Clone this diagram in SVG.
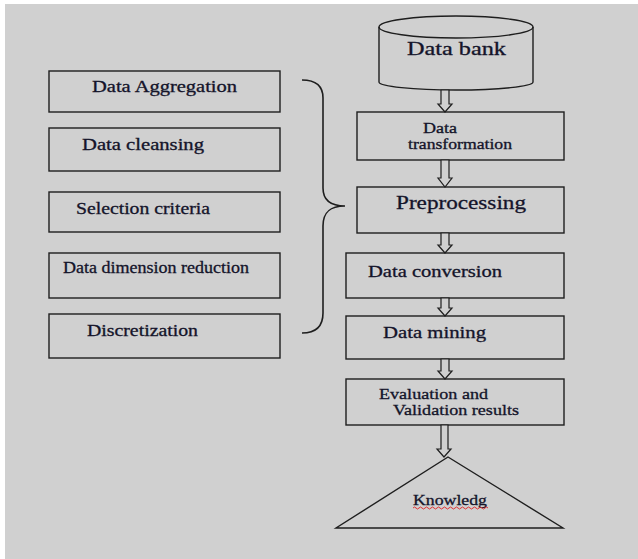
<svg xmlns="http://www.w3.org/2000/svg" width="638" height="559" viewBox="0 0 638 559">
<style>
.box{fill:none;stroke:#1e1e1e;stroke-width:1.4}
.arr{fill:#d0d0d0;stroke:#1e1e1e;stroke-width:1.2;stroke-linejoin:miter}
text{font-family:'Liberation Serif','Times New Roman',serif;fill:#14142a;stroke:#14142a;stroke-width:0.3}
</style>
<rect x="0" y="0" width="638" height="559" fill="#ffffff"/>
<rect x="5" y="4" width="633" height="555" fill="#d0d0d0"/>

<g id="databank">
<path class="box" d="M379,27 V82 A77,8 0 0 0 533,82 V27"/>
<ellipse class="box" cx="456" cy="27" rx="77" ry="11"/>
<text x="407" y="55" font-size="18" textLength="99" lengthAdjust="spacingAndGlyphs">Data bank</text>
</g>

<g id="transformation">
<rect class="box" x="357" y="112" width="207" height="48"/>
<text x="423" y="133" font-size="14" textLength="34" lengthAdjust="spacingAndGlyphs">Data</text>
<text x="408" y="149" font-size="14" textLength="104" lengthAdjust="spacingAndGlyphs">transformation</text>
</g>

<g id="preprocessing">
<rect class="box" x="357" y="187" width="207" height="46"/>
<text x="396" y="209" font-size="19" textLength="130" lengthAdjust="spacingAndGlyphs">Preprocessing</text>
</g>

<g id="conversion">
<rect class="box" x="346" y="253" width="218" height="45"/>
<text x="368" y="277" font-size="16" textLength="134" lengthAdjust="spacingAndGlyphs">Data conversion</text>
</g>

<g id="mining">
<rect class="box" x="346" y="316" width="218" height="43"/>
<text x="383" y="338" font-size="16" textLength="103" lengthAdjust="spacingAndGlyphs">Data mining</text>
</g>

<g id="evaluation">
<rect class="box" x="346" y="379" width="218" height="46"/>
<text x="379" y="399" font-size="15" textLength="109" lengthAdjust="spacingAndGlyphs">Evaluation and</text>
<text x="393" y="415" font-size="15" textLength="126" lengthAdjust="spacingAndGlyphs">Validation results</text>
</g>

<g id="knowledge">
<path class="box" d="M448,457 L563,528 L336,528 Z"/>
<text x="413" y="505" font-size="15" textLength="74" lengthAdjust="spacingAndGlyphs">Knowledg</text>
<path d="M413,508 q1.5,-2 3,0 t3,0 t3,0 t3,0 t3,0 t3,0 t3,0 t3,0 t3,0 t3,0 t3,0 t3,0 t3,0 t3,0 t3,0 t3,0 t3,0 t3,0 t3,0 t3,0 t3,0 t3,0 t3,0 t3,0 t3,0" fill="none" stroke="#e02020" stroke-width="0.9"/>
</g>

<g id="aggregation">
<rect class="box" x="49" y="71" width="231" height="41"/>
<text x="92" y="92" font-size="16" textLength="145" lengthAdjust="spacingAndGlyphs">Data Aggregation</text>
</g>

<g id="cleansing">
<rect class="box" x="49" y="128" width="231" height="43"/>
<text x="82" y="150" font-size="16" textLength="122" lengthAdjust="spacingAndGlyphs">Data cleansing</text>
</g>

<g id="selection">
<rect class="box" x="49" y="192" width="231" height="40"/>
<text x="76" y="214" font-size="16" textLength="134" lengthAdjust="spacingAndGlyphs">Selection criteria</text>
</g>

<g id="dimension">
<rect class="box" x="49" y="253" width="231" height="45"/>
<text x="63" y="273" font-size="16" textLength="186" lengthAdjust="spacingAndGlyphs">Data dimension reduction</text>
</g>

<g id="discretization">
<rect class="box" x="49" y="314" width="231" height="44"/>
<text x="87" y="336" font-size="16" textLength="111" lengthAdjust="spacingAndGlyphs">Discretization</text>
</g>

<g id="connectors">
<path d="M302,80 C316,80 323,86 323,98 V188 C323,200 330,206 345,206 C330,206 323,212 323,226 V313 C323,326 316,333 302,333" fill="none" stroke="#1e1e1e" stroke-width="1.6"/>
<path class="arr" d="M441,90 V104 H438 L445,112 L452,104 H449 V90 Z"/>
<path class="arr" d="M441,160 V178 H438 L445,187 L452,178 H449 V160 Z"/>
<path class="arr" d="M441,233 V245 H438 L445,253 L452,245 H449 V233 Z"/>
<path class="arr" d="M441,298 V308 H438 L445,316 L452,308 H449 V298 Z"/>
<path class="arr" d="M441,359 V371 H438 L445,379 L452,371 H449 V359 Z"/>
<path class="arr" d="M441,425 V449 H437 L444,457 L451,449 H448 V425 Z"/>
</g>
</svg>
